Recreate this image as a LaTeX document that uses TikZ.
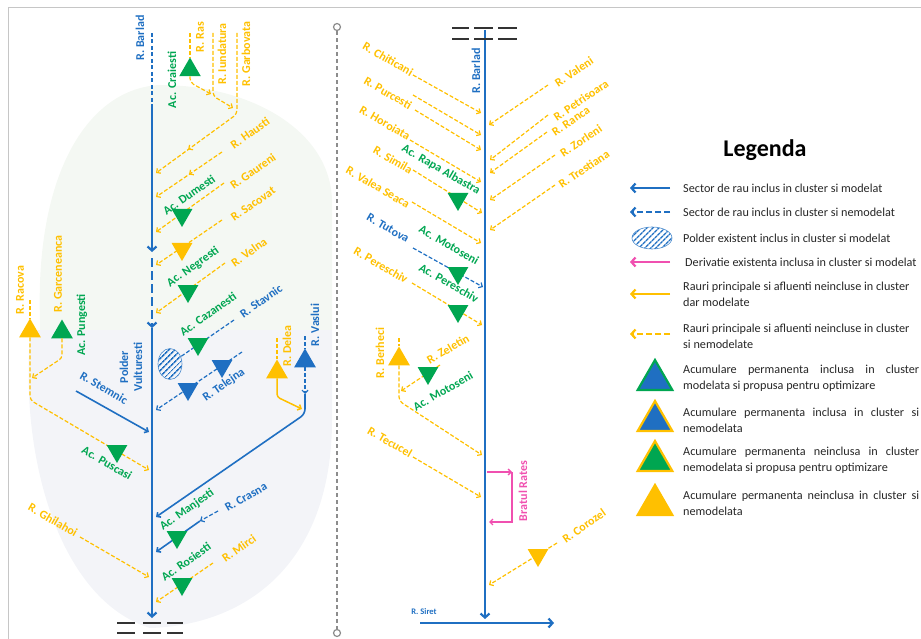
\documentclass[tikz,border=0pt]{standalone}
\usepackage{fontspec}
\setmainfont{Carlito}
\usetikzlibrary{arrows.meta,shapes.geometric,patterns.meta,decorations.markings}
\definecolor{bl}{HTML}{1F6FC2}
\definecolor{yl}{HTML}{FFC000}
\definecolor{gn}{HTML}{00A651}
\definecolor{pk}{HTML}{F050B0}
\definecolor{gry}{HTML}{8C8C8C}
\definecolor{txt}{HTML}{262626}
\definecolor{bgG}{HTML}{F4F8F3}
\definecolor{bgB}{HTML}{F3F4F8}
\begin{document}
\begin{tikzpicture}[x=1pt,y=-1pt,>={Straight Barb[length=3pt,width=6pt]},
  riv/.style={draw=bl,line width=2.2pt},
  rtip/.style={-{Straight Barb[length=4pt,width=9pt]}},
  yd/.style={draw=yl,line width=1.2pt,dash pattern=on 4pt off 2pt},
  ys/.style={draw=yl,line width=1.5pt},
  bd/.style={draw=bl,line width=1.2pt,dash pattern=on 4pt off 2pt},
  bs/.style={draw=bl,line width=1.6pt},
  midarr/.style={postaction={decorate},decoration={markings,mark=at position #1 with {\arrow{>}}}},
  tdn/.style={regular polygon,regular polygon sides=3,shape border rotate=180,inner sep=0pt,minimum size=24pt,fill=#1},
  tdn/.default=gn,
  tup/.style={regular polygon,regular polygon sides=3,inner sep=0pt,minimum size=25pt,fill=#1},
  tup/.default=gn,
  lb/.style={font=\fontsize{12}{12}\selectfont\bfseries,inner sep=0pt},
  ly/.style={lb,text=yl},
  lg/.style={lb,text=gn},
  lbb/.style={lb,text=bl},
  lgtri/.style={regular polygon,regular polygon sides=3,inner sep=0pt,minimum size=40pt,line width=2.2pt},
  lgtxt/.style={anchor=west,inner sep=0pt,text=txt,font=\fontsize{12.2}{16}\selectfont},
  lgpar/.style={lgtxt,text width=236pt,align=justify}
]
\useasboundingbox (0,0) rectangle (921,639);
% background blobs
\fill[bgG] (40,320) .. controls (35,170) and (90,88) .. (160,85) .. controls (250,85) and (330,130) .. (332,200) -- (332,330) -- (40,330) -- cycle;
\fill[bgB] (30,335) .. controls (20,460) and (60,600) .. (150,628) .. controls (250,625) and (332,560) .. (332,420) -- (332,330) -- (30,330) -- cycle;
% frame
\draw[gray!45,line width=0.8pt] (8,639) -- (8,7) -- (921,7);
% separator
\node[circle,draw=gry,line width=1.2pt,inner sep=0pt,minimum size=7pt] (sepT) at (337,27) {};
\node[circle,draw=gry,line width=1.2pt,inner sep=0pt,minimum size=7pt] (sepB) at (337,633) {};
\draw[gry,line width=1.2pt,dash pattern=on 4pt off 3pt] (sepT) -- (sepB);

%================ LEFT CLUSTER
% main river
\coordinate (bT) at (152,33); \coordinate (b1) at (152,106); \coordinate (b2) at (152,252);
\coordinate (b3) at (152,258); \coordinate (b4) at (152,328); \coordinate (bB) at (152,618);
\draw[riv,dash pattern=on 4pt off 2.5pt] (bT) -- (b1);
\draw[riv,rtip] (b1) -- (b2);
\draw[riv,dash pattern=on 9pt off 4pt,rtip] (b3) -- (b4);
\draw[riv,rtip] (b4) -- (bB);
\foreach \y in {623,633} {
  \draw[black!80,line width=1.6pt] (117,\y) -- (135,\y) (143,\y) -- (161,\y) (167,\y) -- (183,\y);}
\node[lbb,rotate=90] (lBar1) at (140,38) {R. Barlad};

% Ras, Iundatura, Garbovata
\node[tup] (tCra) at (190,70) {};
\coordinate (rasT) at (190,33); \coordinate (rasJ) at (211,94);
\draw[yd] (rasT) -- (tCra.north);
\draw[yd,->,rounded corners=4pt] (tCra.south) -- ++(0,6) -- (rasJ);
\coordinate (iunT) at (213,33); \coordinate (iunB) at (213,96); \coordinate (iunJ) at (233,108);
\draw[yd,->,rounded corners=4pt] (iunT) -- (iunB) -- (iunJ);
\coordinate (garT) at (237,33); \coordinate (garB) at (237,114); \coordinate (garE) at (156,173);
\draw[yd,->,rounded corners=4pt,midarr=0.78] (garT) -- (garB) -- (garE);
\node[lg,rotate=90] (lCra) at (172,80) {Ac. Craiesti};
\node[ly,rotate=90] (lRas) at (200,37) {R. Ras};
\node[ly,rotate=90] (lIun) at (222,54) {R. Iundatura};
\node[ly,rotate=90] (lGarb) at (246,54) {R. Garbovata};

% Hausti
\coordinate (hauS) at (222,152); \coordinate (hauE) at (156,197);
\draw[yd,->,midarr=0.5] (hauS) -- (hauE);
\node[ly,rotate=35] (lHau) at (250,133) {R. Hausti};
% Gaureni
\coordinate (gauS) at (224,183); \coordinate (gauE) at (156,232);
\draw[yd,->] (gauS) -- (gauE);
\node[tdn] (tDum) at (182,215) {};
\node[ly,rotate=35] (lGau) at (253,171) {R. Gaureni};
\node[lg,rotate=35] (lDum) at (189,195) {Ac. Dumesti};
% Sacovat
\coordinate (sacS) at (222,220); \coordinate (sacE) at (156,265);
\draw[yd,->] (sacS) -- (sacE);
\node[tdn=yl] (tSac) at (182,249) {};
\node[ly,rotate=35] (lSac) at (253,204) {R. Sacovat};
% Velna
\coordinate (velS) at (225,263); \coordinate (velE) at (156,313);
\draw[yd,->] (velS) -- (velE);
\node[tdn] (tNeg) at (188,291) {};
\node[ly,rotate=35] (lVel) at (249,252) {R. Velna};
\node[lg,rotate=35] (lNeg) at (193,267) {Ac. Negresti};
% Stavnic + polder
\node[ellipse,draw=bl!80,line width=0.6pt,minimum width=24pt,minimum height=31pt,inner sep=0pt,
      pattern={Lines[angle=45,distance=4pt,line width=1.6pt]},pattern color=bl] (pol) at (170,364) {};
\coordinate (staS) at (234,320);
\draw[bd] (staS) -- (pol);
\node[tdn] (tCaz) at (198,344) {};
\node[lbb,rotate=35] (lSta) at (261,301) {R. Stavnic};
\node[lg,rotate=35] (lCaz) at (208,314) {Ac. Cazanesti};
% Telejna
\coordinate (telS) at (242,352); \coordinate (telE) at (156,410);
\draw[bd,->] (telS) -- (telE);
\node[tdn=bl] (tTel1) at (222,366) {};
\node[tdn=bl] (tTel2) at (188,389) {};
\node[lbb,rotate=35] (lTel) at (224,385) {R. Telejna};
\node[lbb,rotate=90,align=center,font=\fontsize{12}{14}\selectfont\bfseries] (lPol) at (131,367) {Polder\\Vulturesti};
% Stemnic
\coordinate (steS) at (76,391); \coordinate (steE) at (149,432);
\draw[bs,->] (steS) -- (steE);
\node[lbb,rotate=-30] (lSte) at (104,388) {R. Stemnic};
% Racova + Garceneanca
\node[tup=yl] (tRac) at (30,331) {};
\node[tup] (tGar) at (62,332) {};
\coordinate (racT) at (30,300); \coordinate (racB) at (30,400); \coordinate (racE) at (149,470);
\draw[yd] (racT) -- (tRac.north);
\draw[yd,->,rounded corners=4pt] (tRac.south) -- (racB) -- (racE);
\coordinate (garcB) at (62,358); \coordinate (garcE) at (32,378);
\draw[yd,->,rounded corners=3pt] (tGar.south) -- (garcB) -- (garcE);
\node[tdn] (tPus) at (117,451) {};
\node[ly,rotate=90] (lRac) at (20,290) {R. Racova};
\node[ly,rotate=90] (lGarc) at (58,274) {R. Garceneanca};
\node[lg,rotate=90] (lPun) at (82,325) {Ac. Pungesti};
\node[lg,rotate=-30] (lPus) at (107,463) {Ac. Puscasi};
% Delea
\node[tup=yl] (tDel) at (277,372) {};
\coordinate (delT) at (277,338); \coordinate (delB) at (277,397); \coordinate (delE) at (302,409);
\draw[yd] (delT) -- (tDel.north);
\draw[ys,->,rounded corners=3pt] (tDel.south) -- (delB) -- (delE);
\node[ly,rotate=90] (lDel) at (287,346) {R. Delea};
% Vaslui
\node[tup=bl] (tVas) at (305,361) {};
\coordinate (vasT) at (305,336); \coordinate (vasA) at (305,394); \coordinate (vasB) at (305,414);
\coordinate (vasE) at (156,517);
\draw[bd] (vasT) -- (tVas.north);
\draw[bd,->] (tVas.south) -- (vasA);
\draw[bs,->,rounded corners=5pt] (vasA) -- (vasB) -- (vasE);
\node[lbb,rotate=90] (lVas) at (315,325) {R. Vaslui};
% Crasna
\coordinate (craS) at (218,511); \coordinate (craA) at (200,521); \coordinate (craE) at (156,552);
\draw[bd,->] (craS) -- (craA);
\draw[bs,->] (craA) -- (craE);
\node[tdn] (tMan) at (177,537) {};
\node[lbb,rotate=30] (lCras) at (246,497) {R. Crasna};
\node[lg,rotate=35] (lMan) at (187,510) {Ac. Manjesti};
% Ghilahoi
\coordinate (ghiS) at (80,537); \coordinate (ghiE) at (149,577);
\draw[yd,->] (ghiS) -- (ghiE);
\node[ly,rotate=-30] (lGhi) at (53,520) {R. Ghilahoi};
% Mirci
\coordinate (mirS) at (213,563); \coordinate (mirE) at (156,602);
\draw[yd,->] (mirS) -- (mirE);
\node[tdn] (tRos) at (182,584) {};
\node[lg,rotate=35] (lRos) at (186,562) {Ac. Rosiesti};
\node[ly,rotate=35] (lMir) at (239,548) {R. Mirci};

%================ MIDDLE CLUSTER
\coordinate (mT) at (485,30); \coordinate (mB) at (485,619);
\draw[riv,rtip] (mT) -- (mB);
\foreach \y in {28,39} {
  \draw[black!80,line width=1.6pt] (452,\y) -- (469,\y) (474,\y) -- (493,\y) (498,\y) -- (517,\y);}
\node[lbb,rotate=90] (lBar2) at (476,71) {R. Barlad};
\coordinate (sirS) at (420,623); \coordinate (sirE) at (554,623);
\draw[riv,rtip] (sirS) -- (sirE);
\node[lbb,font=\fontsize{8.5}{9}\selectfont\bfseries] (lSir) at (424,612) {R. Siret};
% left tributaries
\coordinate (chiS) at (413,75); \coordinate (chiE) at (481,113);
\draw[yd,->] (chiS) -- (chiE);
\node[ly,rotate=-30] (lChi) at (388,59) {R. Chiticani};
\coordinate (unS) at (413,95); \coordinate (unE) at (481,135);
\draw[yd,->] (unS) -- (unE);
\coordinate (purS) at (415,110); \coordinate (purE) at (481,150);
\draw[yd,->] (purS) -- (purE);
\node[ly,rotate=-30] (lPur) at (388,93) {R. Purcesti};
\coordinate (horS) at (410,140); \coordinate (horE) at (481,182);
\draw[yd,->] (horS) -- (horE);
\node[ly,rotate=-30] (lHor) at (385,123) {R. Horoiata};
\coordinate (simS) at (413,170); \coordinate (simE) at (482,213);
\draw[yd,->] (simS) -- (simE);
\node[tdn] (tRap) at (458,199) {};
\node[ly,rotate=-30] (lSim) at (393,160) {R. Simila};
\node[lg,rotate=-30] (lRap) at (441,170) {Ac. Rapa Albastra};
\coordinate (vsS) at (412,202); \coordinate (vsE) at (481,243);
\draw[yd,->] (vsS) -- (vsE);
\node[ly,rotate=-30] (lVS) at (378,187) {R. Valea Seaca};
\coordinate (tutS) at (413,248); \coordinate (tutE) at (483,287);
\draw[bd,->] (tutS) -- (tutE);
\node[tdn] (tMot1) at (458,273) {};
\node[lbb,rotate=-30] (lTut) at (388,228) {R. Tutova};
\node[lg,rotate=-30] (lMot1) at (449,245) {Ac. Motoseni};
\coordinate (perS) at (412,283); \coordinate (perE) at (482,325);
\draw[yd,->] (perS) -- (perE);
\node[tdn] (tPer) at (458,311) {};
\node[ly,rotate=-30] (lPer) at (381,265) {R. Pereschiv};
\node[lg,rotate=-30] (lPer2) at (449,283) {Ac. Pereschiv};
% Berheci + Zeletin
\node[tup=yl] (tBer) at (399,359) {};
\coordinate (berT) at (399,338); \coordinate (berB) at (399,401); \coordinate (berE) at (482,455);
\draw[yd] (berT) -- (tBer.north);
\draw[yd,->,rounded corners=4pt] (tBer.south) -- (berB) -- (berE);
\coordinate (zelS) at (440,365); \coordinate (zelE) at (401,391);
\draw[yd,->] (zelS) -- (zelE);
\node[tdn] (tMot2) at (428,373) {};
\node[ly,rotate=90] (lBer) at (380,353) {R. Berheci};
\node[ly,rotate=30] (lZel) at (448,349) {R. Zeletin};
\node[lg,rotate=30] (lMot2) at (443,391) {Ac. Motoseni};
% Tecucel
\coordinate (tecS) at (413,457); \coordinate (tecE) at (481,497);
\draw[yd,->] (tecS) -- (tecE);
\node[ly,rotate=-30] (lTec) at (390,442) {R. Tecucel};
% Bratul Rates
\coordinate (br1) at (487,472); \coordinate (br2) at (512,472); \coordinate (br3) at (512,522); \coordinate (br4) at (489,522);
\draw[pk,line width=1.3pt,->] (br1) -- (br2);
\draw[pk,line width=1.3pt,->] (br2) -- (br3) -- (br4);
\node[lb,text=pk,rotate=90] (lBra) at (523,491) {Bratul Rates};
% Corozel
\coordinate (corS) at (557,543); \coordinate (corE) at (489,585);
\draw[yd,->] (corS) -- (corE);
\node[tdn=yl] (tCor) at (538,555) {};
\node[ly,rotate=35] (lCor) at (584,526) {R. Corozel};
% right tributaries
\coordinate (valS) at (548,85); \coordinate (valE) at (489,125);
\draw[yd,->] (valS) -- (valE);
\node[ly,rotate=34] (lVal) at (574,72) {R. Valeni};
\coordinate (petS) at (548,115); \coordinate (petE) at (490,160);
\draw[yd,->] (petS) -- (petE);
\node[ly,rotate=34] (lPet) at (581,100) {R. Petrisoara};
\coordinate (ranS) at (547,132); \coordinate (ranE) at (490,173);
\draw[yd,->] (ranS) -- (ranE);
\node[ly,rotate=34] (lRan) at (571,121) {R. Ranca};
\coordinate (zorS) at (555,155); \coordinate (zorE) at (490,200);
\draw[yd,->] (zorS) -- (zorE);
\node[ly,rotate=34] (lZor) at (581,141) {R. Zorleni};
\coordinate (treS) at (555,185); \coordinate (treE) at (490,230);
\draw[yd,->] (treS) -- (treE);
\node[ly,rotate=34] (lTre) at (584,169) {R. Trestiana};

%================ LEGEND
\node[font=\fontsize{24}{26}\selectfont\bfseries,text=black] (lgTitle) at (765,150) {Legenda};
\coordinate (g1a) at (670,188); \coordinate (g1b) at (630,188);
\draw[riv,rtip] (g1a) -- (g1b);
\node[lgtxt] (lgT1) at (683,188) {Sector de rau inclus in cluster si modelat};
\coordinate (g2a) at (670,212); \coordinate (g2b) at (630,212);
\draw[riv,rtip,dash pattern=on 6pt off 3pt] (g2a) -- (g2b);
\node[lgtxt] (lgT2) at (683,212) {Sector de rau inclus in cluster si nemodelat};
\node[ellipse,draw=bl!80,line width=0.6pt,minimum width=40pt,minimum height=22pt,inner sep=0pt,
      pattern={Lines[angle=45,distance=4pt,line width=1.6pt]},pattern color=bl] (lgPol) at (652,238) {};
\node[lgtxt] (lgT3) at (683,238) {Polder existent inclus in cluster si modelat};
\coordinate (g4a) at (670,262); \coordinate (g4b) at (630,262);
\draw[draw=pk,line width=2.2pt,rtip] (g4a) -- (g4b);
\node[lgtxt] (lgT4) at (685,262) {Derivatie existenta inclusa in cluster si modelat};
\coordinate (g5a) at (670,294); \coordinate (g5b) at (630,294);
\draw[draw=yl,line width=2.2pt,rtip] (g5a) -- (g5b);
\node[lgtxt,align=left] (lgT5) at (683,294) {Rauri principale si afluenti neincluse in cluster\\dar modelate};
\coordinate (g6a) at (670,334); \coordinate (g6b) at (630,334);
\draw[draw=yl,line width=2.2pt,rtip,dash pattern=on 6pt off 3pt] (g6a) -- (g6b);
\node[lgtxt,align=left] (lgT6) at (683,336) {Rauri principale si afluenti neincluse in cluster\\si nemodelate};
\node[lgtri,fill=bl,draw=gn] (lgA1) at (655,380) {};
\node[lgpar] (lgT7) at (683,378) {Acumulare permanenta inclusa in cluster\linebreak modelata si propusa pentru optimizare};
\node[lgtri,fill=bl,draw=yl] (lgA2) at (655,421) {};
\node[lgpar] (lgT8) at (683,420) {Acumulare permanenta inclusa in cluster si\linebreak nemodelata};
\node[lgtri,fill=gn,draw=yl] (lgA3) at (655,461) {};
\node[lgpar] (lgT9) at (683,460) {Acumulare permanenta neinclusa in cluster\linebreak nemodelata si propusa pentru optimizare};
\node[lgtri,fill=yl,draw=yl] (lgA4) at (655,505) {};
\node[lgpar] (lgT10) at (683,503) {Acumulare permanenta neinclusa in cluster si\linebreak nemodelata};
\end{tikzpicture}
\end{document}
